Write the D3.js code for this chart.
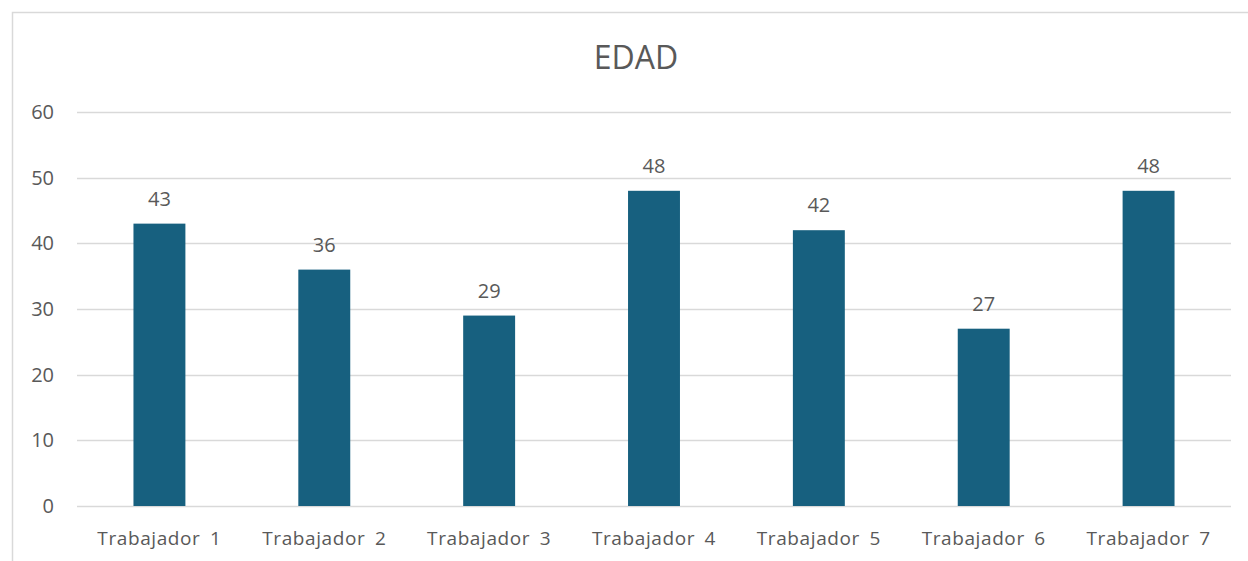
<!DOCTYPE html>
<html lang="es">
<head>
    <meta charset="UTF-8">
    <title>EDAD</title>
    <script src="https://d3js.org/d3.v7.min.js"></script>
    <style>
        body { margin: 0; background: #fff; font-family: "Open Sans", "Noto Sans", sans-serif; }
        svg text { fill: #595959; }
    </style>
</head>
<body>
    <div id="chart"></div>
    <script>
        const categories = ["Trabajador 1", "Trabajador 2", "Trabajador 3", "Trabajador 4",
                            "Trabajador 5", "Trabajador 6", "Trabajador 7"];
        const edades = [43, 36, 29, 48, 42, 27, 48];
        const yTicks = [0, 10, 20, 30, 40, 50, 60];

        const width = 1248, height = 561;
        const margin = { top: 112, right: 17, bottom: 55, left: 77 };

        const svg = d3.select("#chart").append("svg")
            .attr("width", width)
            .attr("height", height);

        // chart frame
        svg.append("path")
            .attr("d", `M12.5,${height} V12.5 H${width}`)
            .attr("fill", "none")
            .attr("stroke", "#d9d9d9")
            .attr("stroke-width", 1.5);

        const x = d3.scaleBand()
            .domain(categories)
            .range([margin.left, width - margin.right])
            .paddingInner(0.685)
            .paddingOuter(0.3425);

        const y = d3.scaleLinear()
            .domain([0, 60])
            .range([height - margin.bottom, margin.top]);

        // gridlines
        svg.append("g")
            .selectAll("line")
            .data(yTicks)
            .join("line")
            .attr("x1", margin.left)
            .attr("x2", width - margin.right)
            .attr("y1", d => Math.round(y(d)) + 0.5)
            .attr("y2", d => Math.round(y(d)) + 0.5)
            .attr("stroke", "#d9d9d9")
            .attr("stroke-width", 1.5);

        // y tick labels
        svg.append("g")
            .selectAll("text")
            .data(yTicks)
            .join("text")
            .attr("x", 54)
            .attr("y", d => y(d))
            .attr("dy", "0.35em")
            .attr("text-anchor", "end")
            .attr("font-size", 20)
            .text(d => d);

        // bars
        svg.append("g")
            .selectAll("rect")
            .data(edades)
            .join("rect")
            .attr("x", (d, i) => x(categories[i]))
            .attr("y", d => y(d))
            .attr("width", x.bandwidth())
            .attr("height", d => y(0) - y(d))
            .attr("fill", "#17607f");

        // data labels
        svg.append("g")
            .selectAll("text")
            .data(edades)
            .join("text")
            .attr("x", (d, i) => x(categories[i]) + x.bandwidth() / 2)
            .attr("y", d => y(d) - 18)
            .attr("text-anchor", "middle")
            .attr("font-size", 20)
            .text(d => d);

        // x labels
        svg.append("g")
            .selectAll("text")
            .data(categories)
            .join("text")
            .attr("x", d => x(d) + x.bandwidth() / 2)
            .attr("y", height - margin.bottom + 39)
            .attr("text-anchor", "middle")
            .attr("font-size", 19)
            .attr("letter-spacing", "0.6px")
            .attr("word-spacing", "4px")
            .text(d => d);

        // title
        svg.append("text")
            .attr("x", 636)
            .attr("y", 69)
            .attr("text-anchor", "middle")
            .attr("font-size", 32)
            .text("EDAD");
    </script>
</body>
</html>
